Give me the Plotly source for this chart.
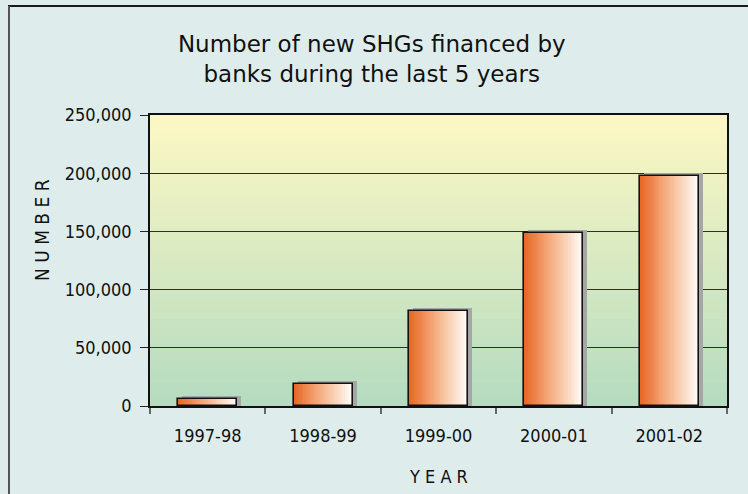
import plotly.graph_objects as go

# ---- data ----
years = ["1997-98", "1998-99", "1999-00", "2000-01", "2001-02"]
new_shgs = [5719, 18678, 81780, 149050, 197653]
y_ticks = [0, 50000, 100000, 150000, 200000, 250000]
y_tick_text = ["0", "50,000", "100,000", "150,000", "200,000", "250,000"]

title_text = "Number of new SHGs financed by<br>banks during the last 5 years"

# ---- geometry / style ----
W, H = 748, 494
ML, MR, MT, MB = 150, 21, 115, 88
PW, PH = W - ML - MR, H - MT - MB
YMAX = 250000
units_per_px = YMAX / PH
cat_px = PW / len(years)
bar_w = 0.51

narrow = "Liberation Sans Narrow, Arial Narrow, DejaVu Sans Condensed, sans-serif"
paper_bg = "#deedec"


def lerp(c1, c2, t):
    return tuple(round(a + (b - a) * t) for a, b in zip(c1, c2))


def rgb(c):
    return "rgb(%d,%d,%d)" % c


fig = go.Figure()

# shadow
fig.add_trace(go.Bar(
    x=years, y=[v + 3 * units_per_px for v in new_shgs],
    width=bar_w, offset=-bar_w / 2 + 4 / cat_px,
    marker=dict(color="#a6a6a6", line=dict(width=0)),
    hoverinfo="skip", showlegend=False))

# gradient body (left orange -> right white)
N = 30
c_left, c_mid, c_right = (232, 104, 40), (246, 182, 140), (255, 252, 248)
for i in range(N):
    t = i / (N - 1)
    col = lerp(c_left, c_mid, t / 0.5) if t <= 0.5 else lerp(c_mid, c_right, (t - 0.5) / 0.5)
    start = -bar_w / 2 + i * bar_w / N
    fig.add_trace(go.Bar(
        x=years, y=new_shgs,
        width=bar_w / 2 - start, offset=start,
        marker=dict(color=rgb(col), line=dict(width=0)),
        hoverinfo="skip", showlegend=False))

# outline
fig.add_trace(go.Bar(
    x=years, y=new_shgs, width=bar_w, offset=-bar_w / 2,
    marker=dict(color="rgba(0,0,0,0)", line=dict(color="#111111", width=1.6)),
    hovertemplate="%{x}: %{y:,}<extra></extra>", showlegend=False))

# plot-area vertical gradient background
shapes = []
S = 60
top_c, bot_c = (253, 248, 196), (180, 219, 192)
for k in range(S):
    t = (k + 0.5) / S
    shapes.append(dict(type="rect", xref="paper", yref="paper",
                       x0=0, x1=1, y0=k / S, y1=(k + 1) / S + 0.002,
                       fillcolor=rgb(lerp(bot_c, top_c, t)),
                       line=dict(width=0), layer="below"))


def px_x(px):
    return (px - ML) / PW


def px_y(py):
    return (H - MB - py) / PH


# outer frame (top and left edges)
shapes.append(dict(type="line", xref="paper", yref="paper",
                   x0=px_x(8), x1=px_x(W + 2), y0=px_y(6), y1=px_y(6),
                   line=dict(color="#1a1a1a", width=2), layer="above"))
shapes.append(dict(type="line", xref="paper", yref="paper",
                   x0=px_x(9), x1=px_x(9), y0=px_y(6), y1=px_y(H + 2),
                   line=dict(color="#555555", width=2), layer="above"))

fig.update_layout(
    width=W, height=H,
    margin=dict(l=ML, r=MR, t=MT, b=MB, pad=0),
    paper_bgcolor=paper_bg, plot_bgcolor="rgba(0,0,0,0)",
    barmode="overlay", bargap=0,
    shapes=shapes,
    title=dict(text=title_text, x=0.497, xanchor="center",
               y=1 - 52 / H, yanchor="middle", yref="container",
               font=dict(family="DejaVu Sans, sans-serif", size=23, color="#111111")),
    xaxis=dict(type="category", range=[-0.5, len(years) - 0.5],
               showline=True, linecolor="#111111", linewidth=1.5, mirror=True,
               ticks="outside", tickson="boundaries", ticklen=6, tickcolor="#666666",
               tickwidth=1.5, ticklabelstandoff=13,
               tickfont=dict(family=narrow, size=18, color="#111111"),
               showgrid=False, zeroline=False),
    yaxis=dict(range=[0, YMAX], tickvals=y_ticks, ticktext=y_tick_text,
               showline=True, linecolor="#111111", linewidth=1.5, mirror=True,
               ticks="outside", ticklen=8, tickcolor="#222222", tickwidth=1.2,
               ticklabelstandoff=5,
               tickfont=dict(family=narrow, size=18, color="#111111"),
               showgrid=True, gridcolor="#2e2e2e", gridwidth=1.4, zeroline=False),
    annotations=[
        dict(text="N U M B E R", textangle=-90, xref="paper", yref="paper",
             x=px_x(42), y=px_y(230), xanchor="center", yanchor="middle",
             showarrow=False, font=dict(family=narrow, size=19, color="#111111")),
        dict(text="Y E A R", xref="paper", yref="paper",
             x=0.5, y=px_y(476), xanchor="center", yanchor="middle",
             showarrow=False, font=dict(family=narrow, size=18, color="#111111")),
    ],
)

fig.write_html("out.html", config={"displayModeBar": False},
               post_script="document.body.style.margin='0';document.body.style.overflow='hidden';")
